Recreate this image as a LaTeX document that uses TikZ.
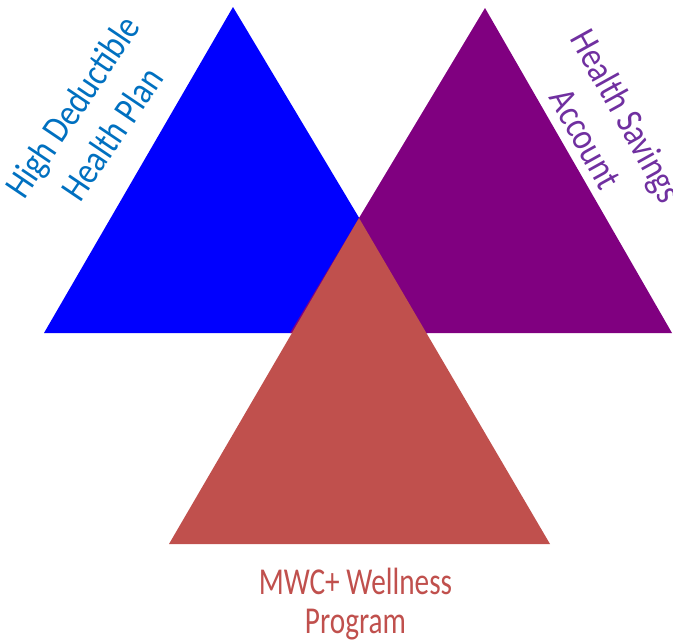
\documentclass[tikz,border=0pt]{standalone}
\usepackage{fontspec}
\setmainfont{Carlito}
\newfontfamily\rotfont[FakeStretch=0.85]{Carlito}
\newfontfamily\wpfont[FakeStretch=0.77]{Carlito}
\definecolor{hdblue}{HTML}{0000FF}
\definecolor{hspurple}{HTML}{800080}
\definecolor{wellred}{HTML}{C0504D}
\definecolor{hdtextc}{HTML}{0070C0}
\definecolor{hstextc}{HTML}{7030A0}
\tikzset{
  lbl/.style={inner sep=0pt, align=center},
  hdlbl/.style={lbl, text=hdtextc, font=\rotfont\fontsize{38}{48}\selectfont},
  hslbl/.style={lbl, text=hstextc, font=\rotfont\fontsize{38}{47}\selectfont},
  wplbl/.style={lbl, text=wellred, font=\wpfont\fontsize{38}{39}\selectfont},
}
\begin{document}
\begin{tikzpicture}[x=1pt,y=-1pt]
\useasboundingbox (0,0) rectangle (673,643);
\fill[hdblue] (233,7) -- (44,333) -- (428,333) -- cycle;
\fill[hspurple] (485,8) -- (290,333) -- (672,333) -- cycle;
\fill[wellred] (359,218) -- (169,544) -- (550,544) -- cycle;
\node[hdlbl, rotate=56] (hdhp) at (92,120) {High Deductible\\Health Plan};
\node[hslbl, rotate=-61] (hsa) at (606.5,127) {Health Savings\\Account};
\node[wplbl] (wp) at (355.5,604) {MWC+ Wellness\\Program};
\end{tikzpicture}
\end{document}
